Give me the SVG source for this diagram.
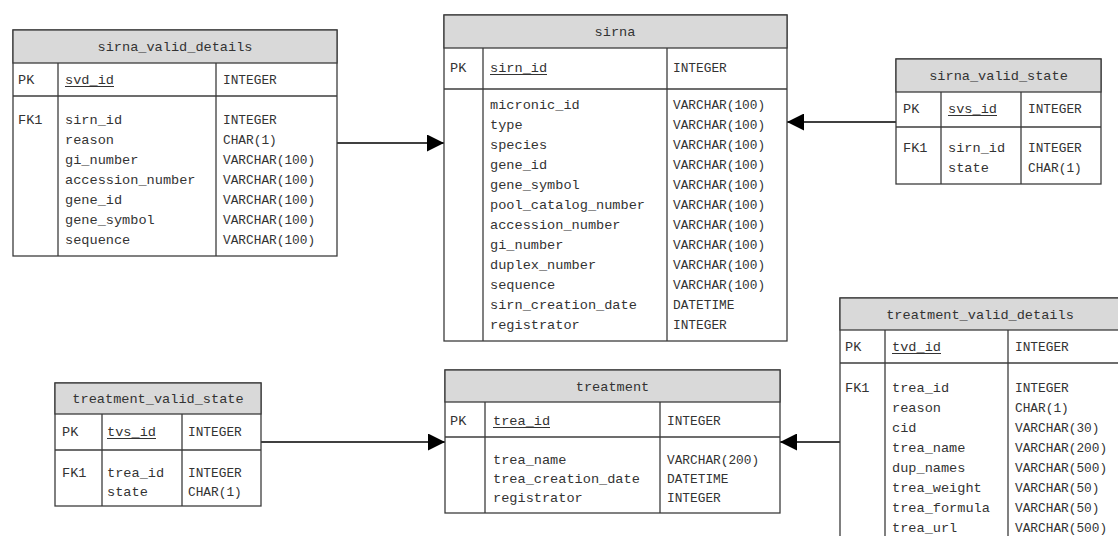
<svg xmlns="http://www.w3.org/2000/svg" width="1118" height="536" viewBox="0 0 1118 536">
  <style>
    .box { fill: #ffffff; stroke: #3c3c3c; stroke-width: 1.3; }
    .head { fill: #d9d9d9; stroke: #3c3c3c; stroke-width: 1.3; }
    .sep { stroke: #3c3c3c; stroke-width: 1.3; fill: none; }
    .t { font-family: "Liberation Mono", "DejaVu Sans Mono", monospace; font-size: 13.6px; fill: #333333; }
    .ty { font-family: "Liberation Mono", "DejaVu Sans Mono", monospace; font-size: 12.8px; fill: #333333; }
    .ttl { font-family: "Liberation Mono", "DejaVu Sans Mono", monospace; font-size: 13.6px; fill: #333333; text-anchor: middle; }
    .ul { stroke: #333333; stroke-width: 1; }
    .conn { stroke: #000000; stroke-width: 1.6; fill: none; }
  </style>
  <defs>
    <marker id="arrow" viewBox="0 0 17 17" refX="17" refY="8.5" markerWidth="17" markerHeight="17" markerUnits="userSpaceOnUse" orient="auto">
      <path d="M0,0 L17,8.5 L0,17 Z" fill="#000000"/>
    </marker>
  </defs>

  <!-- relationships -->
  <g id="connectors">
    <line class="conn" x1="337" y1="143" x2="444" y2="143" marker-end="url(#arrow)"/>
    <line class="conn" x1="896" y1="122" x2="787" y2="122" marker-end="url(#arrow)"/>
    <line class="conn" x1="261" y1="442" x2="445" y2="442" marker-end="url(#arrow)"/>
    <line class="conn" x1="840" y1="442" x2="780" y2="442" marker-end="url(#arrow)"/>
  </g>

  <!-- sirna_valid_details -->
  <g id="sirna_valid_details">
    <rect class="box" x="13" y="30" width="324" height="226"/>
    <rect class="head" x="13" y="30" width="324" height="33"/>
    <line class="sep" x1="13" y1="96" x2="337" y2="96"/>
    <line class="sep" x1="58" y1="63" x2="58" y2="256"/>
    <line class="sep" x1="216" y1="63" x2="216" y2="256"/>
    <text class="ttl" x="175" y="51">sirna_valid_details</text>
    <text class="t" x="18" y="84">PK</text>
    <text class="t" x="65" y="84">svd_id</text>
    <line class="ul" x1="65" y1="86.5" x2="114" y2="86.5"/>
    <text class="ty" x="223" y="84">INTEGER</text>
    <text class="t" x="18" y="124">FK1</text>
    <text class="t" x="65" y="124">sirn_id</text>
    <text class="t" x="65" y="144">reason</text>
    <text class="t" x="65" y="164">gi_number</text>
    <text class="t" x="65" y="184">accession_number</text>
    <text class="t" x="65" y="204">gene_id</text>
    <text class="t" x="65" y="224">gene_symbol</text>
    <text class="t" x="65" y="244">sequence</text>
    <text class="ty" x="223" y="124">INTEGER</text>
    <text class="ty" x="223" y="144">CHAR(1)</text>
    <text class="ty" x="223" y="164">VARCHAR(100)</text>
    <text class="ty" x="223" y="184">VARCHAR(100)</text>
    <text class="ty" x="223" y="204">VARCHAR(100)</text>
    <text class="ty" x="223" y="224">VARCHAR(100)</text>
    <text class="ty" x="223" y="244">VARCHAR(100)</text>
  </g>

  <!-- sirna -->
  <g id="sirna">
    <rect class="box" x="444" y="15" width="343" height="326"/>
    <rect class="head" x="444" y="15" width="343" height="33"/>
    <line class="sep" x1="444" y1="89" x2="787" y2="89"/>
    <line class="sep" x1="483" y1="48" x2="483" y2="341"/>
    <line class="sep" x1="667" y1="48" x2="667" y2="341"/>
    <text class="ttl" x="615" y="36">sirna</text>
    <text class="t" x="450" y="72">PK</text>
    <text class="t" x="490" y="72">sirn_id</text>
    <line class="ul" x1="490" y1="74.5" x2="547" y2="74.5"/>
    <text class="ty" x="673" y="72">INTEGER</text>
    <text class="t" x="490" y="109">micronic_id</text>
    <text class="t" x="490" y="129">type</text>
    <text class="t" x="490" y="149">species</text>
    <text class="t" x="490" y="169">gene_id</text>
    <text class="t" x="490" y="189">gene_symbol</text>
    <text class="t" x="490" y="209">pool_catalog_number</text>
    <text class="t" x="490" y="229">accession_number</text>
    <text class="t" x="490" y="249">gi_number</text>
    <text class="t" x="490" y="269">duplex_number</text>
    <text class="t" x="490" y="289">sequence</text>
    <text class="t" x="490" y="309">sirn_creation_date</text>
    <text class="t" x="490" y="329">registrator</text>
    <text class="ty" x="673" y="109">VARCHAR(100)</text>
    <text class="ty" x="673" y="129">VARCHAR(100)</text>
    <text class="ty" x="673" y="149">VARCHAR(100)</text>
    <text class="ty" x="673" y="169">VARCHAR(100)</text>
    <text class="ty" x="673" y="189">VARCHAR(100)</text>
    <text class="ty" x="673" y="209">VARCHAR(100)</text>
    <text class="ty" x="673" y="229">VARCHAR(100)</text>
    <text class="ty" x="673" y="249">VARCHAR(100)</text>
    <text class="ty" x="673" y="269">VARCHAR(100)</text>
    <text class="ty" x="673" y="289">VARCHAR(100)</text>
    <text class="ty" x="673" y="309">DATETIME</text>
    <text class="ty" x="673" y="329">INTEGER</text>
  </g>

  <!-- sirna_valid_state -->
  <g id="sirna_valid_state">
    <rect class="box" x="896" y="59" width="205" height="125"/>
    <rect class="head" x="896" y="59" width="205" height="33"/>
    <line class="sep" x1="896" y1="127" x2="1101" y2="127"/>
    <line class="sep" x1="941" y1="92" x2="941" y2="184"/>
    <line class="sep" x1="1021" y1="92" x2="1021" y2="184"/>
    <text class="ttl" x="998.5" y="80">sirna_valid_state</text>
    <text class="t" x="903" y="113">PK</text>
    <text class="t" x="948" y="113">svs_id</text>
    <line class="ul" x1="948" y1="115.5" x2="997" y2="115.5"/>
    <text class="ty" x="1028" y="113">INTEGER</text>
    <text class="t" x="903" y="152">FK1</text>
    <text class="t" x="948" y="152">sirn_id</text>
    <text class="t" x="948" y="172">state</text>
    <text class="ty" x="1028" y="152">INTEGER</text>
    <text class="ty" x="1028" y="172">CHAR(1)</text>
  </g>

  <!-- treatment_valid_details -->
  <g id="treatment_valid_details">
    <rect class="box" x="840" y="298" width="290" height="250"/>
    <rect class="head" x="840" y="298" width="290" height="32"/>
    <line class="sep" x1="840" y1="363" x2="1130" y2="363"/>
    <line class="sep" x1="885" y1="330" x2="885" y2="548"/>
    <line class="sep" x1="1008" y1="330" x2="1008" y2="548"/>
    <text class="ttl" x="980" y="319">treatment_valid_details</text>
    <text class="t" x="845" y="351">PK</text>
    <text class="t" x="892" y="351">tvd_id</text>
    <line class="ul" x1="892" y1="353.5" x2="941" y2="353.5"/>
    <text class="ty" x="1015" y="351">INTEGER</text>
    <text class="t" x="845" y="392">FK1</text>
    <text class="t" x="892" y="392">trea_id</text>
    <text class="t" x="892" y="412">reason</text>
    <text class="t" x="892" y="432">cid</text>
    <text class="t" x="892" y="452">trea_name</text>
    <text class="t" x="892" y="472">dup_names</text>
    <text class="t" x="892" y="492">trea_weight</text>
    <text class="t" x="892" y="512">trea_formula</text>
    <text class="t" x="892" y="532">trea_url</text>
    <text class="ty" x="1015" y="392">INTEGER</text>
    <text class="ty" x="1015" y="412">CHAR(1)</text>
    <text class="ty" x="1015" y="432">VARCHAR(30)</text>
    <text class="ty" x="1015" y="452">VARCHAR(200)</text>
    <text class="ty" x="1015" y="472">VARCHAR(500)</text>
    <text class="ty" x="1015" y="492">VARCHAR(50)</text>
    <text class="ty" x="1015" y="512">VARCHAR(50)</text>
    <text class="ty" x="1015" y="532">VARCHAR(500)</text>
  </g>

  <!-- treatment -->
  <g id="treatment">
    <rect class="box" x="445" y="370" width="335" height="143"/>
    <rect class="head" x="445" y="370" width="335" height="32"/>
    <line class="sep" x1="445" y1="437" x2="780" y2="437"/>
    <line class="sep" x1="485" y1="402" x2="485" y2="513"/>
    <line class="sep" x1="660" y1="402" x2="660" y2="513"/>
    <text class="ttl" x="612.5" y="391">treatment</text>
    <text class="t" x="450" y="425">PK</text>
    <text class="t" x="493" y="425">trea_id</text>
    <line class="ul" x1="493" y1="427.5" x2="550" y2="427.5"/>
    <text class="ty" x="667" y="425">INTEGER</text>
    <text class="t" x="493" y="464">trea_name</text>
    <text class="t" x="493" y="483">trea_creation_date</text>
    <text class="t" x="493" y="502">registrator</text>
    <text class="ty" x="667" y="464">VARCHAR(200)</text>
    <text class="ty" x="667" y="483">DATETIME</text>
    <text class="ty" x="667" y="502">INTEGER</text>
  </g>

  <!-- treatment_valid_state -->
  <g id="treatment_valid_state">
    <rect class="box" x="55" y="383" width="206" height="123"/>
    <rect class="head" x="55" y="383" width="206" height="31"/>
    <line class="sep" x1="55" y1="450" x2="261" y2="450"/>
    <line class="sep" x1="102" y1="414" x2="102" y2="506"/>
    <line class="sep" x1="182" y1="414" x2="182" y2="506"/>
    <text class="ttl" x="158" y="403">treatment_valid_state</text>
    <text class="t" x="62" y="436">PK</text>
    <text class="t" x="107" y="436">tvs_id</text>
    <line class="ul" x1="107" y1="438.5" x2="156" y2="438.5"/>
    <text class="ty" x="188" y="436">INTEGER</text>
    <text class="t" x="62" y="477">FK1</text>
    <text class="t" x="107" y="477">trea_id</text>
    <text class="t" x="107" y="496">state</text>
    <text class="ty" x="188" y="477">INTEGER</text>
    <text class="ty" x="188" y="496">CHAR(1)</text>
  </g>
</svg>
